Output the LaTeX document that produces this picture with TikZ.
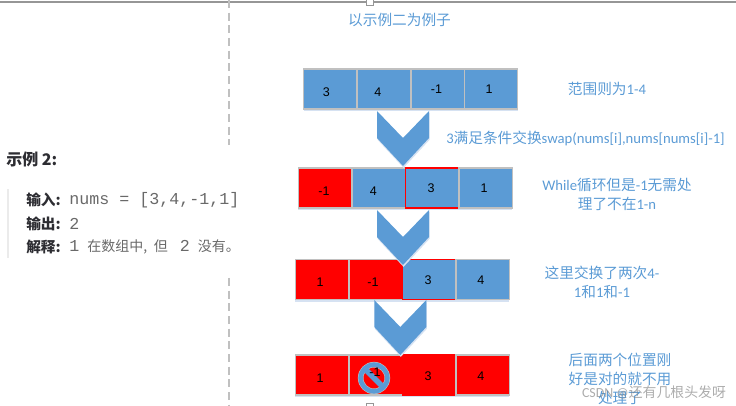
\documentclass[tikz,border=0pt]{standalone}
\usepackage{fontspec}
\setmainfont{Carlito}
\setmonofont{Liberation Mono}
\newfontfamily\cjk{Noto Sans CJK SC}
\newfontfamily\numfont{Liberation Sans}
\usetikzlibrary{positioning}
\definecolor{CellBlue}{RGB}{91,155,213}
\definecolor{CellEdge}{RGB}{192,192,192}
\definecolor{ShadowBlue}{RGB}{214,226,242}
\definecolor{LabelBlue}{RGB}{91,155,213}
\definecolor{HeadDark}{RGB}{45,45,50}
\definecolor{ValueGray}{RGB}{105,105,105}
\definecolor{FrameGray}{RGB}{150,150,150}
\newcommand{\cellnum}[3]{\raisebox{#2}{\makebox[0pt]{\hspace*{#1}#3}}}
\tikzset{
  softshadow/.style={preaction={draw=none,fill=ShadowBlue,transform canvas={xshift=0.4pt,yshift=-1.4pt}}},
  cellbase/.style={line width=1pt,minimum width=40pt,minimum height=30pt,
    inner sep=0pt,outer sep=0pt,text height=6.8pt,text depth=0pt,font=\numfont\fontsize{9.4}{11}\selectfont},
  bluecell/.style={cellbase,draw=CellEdge,preaction={fill=CellBlue}},
  redcell/.style={cellbase,draw=CellEdge,preaction={fill=red}},
  markedcell/.style={cellbase,draw=red,preaction={fill=CellBlue}},
  fullredcell/.style={cellbase,draw=red,preaction={fill=red}},
  chevron/.pic={
    \fill[CellBlue,softshadow] (-26,0) -- (0,27) -- (26,0) -- (26,27) -- (0,55) -- (-26,27) -- cycle;
  },
  note/.style={text=LabelBlue,align=center,inner sep=0pt,font=\fontsize{11}{14.25}\selectfont},
  head/.style={text=HeadDark,anchor=west,inner sep=0pt,font=\cjk\bfseries\fontsize{11}{13}\selectfont},
  value/.style={text=ValueGray,anchor=west,inner sep=0pt,font=\fontsize{10.5}{13}\selectfont},
  monoval/.style={value,font=\ttfamily\fontsize{12.5}{13}\selectfont}
}
\begin{document}
\begin{tikzpicture}[x=0.75pt,y=-0.75pt,node distance=0.2pt]
  \useasboundingbox (0,0) rectangle (736,406);
  \draw[FrameGray,line width=0.9pt] (0,2) -- (736,2);
  \draw[draw=CellEdge,line width=0.9pt,dash pattern=on 6pt off 3.5pt] (229,0) -- (229,145);
  \draw[draw=CellEdge,line width=0.9pt,dash pattern=on 6pt off 3.5pt] (229,278) -- (229,406);
  \node[draw=FrameGray,fill=white,minimum size=5pt,inner sep=0pt] (tophandle) at (369.5,1.5) {};
  \node[draw=FrameGray,fill=white,minimum size=5pt,inner sep=0pt] (bottomhandle) at (369.5,407) {};

  \node[note] (title) at (399.5,20) {\cjk 以示例二为例子};

  \node[bluecell] (aa) at (330.3,89) {\cellnum{-6pt}{-2.25pt}{3}};
  \node[bluecell,right=of aa] (ab) {\cellnum{-9pt}{-2.25pt}{4}};
  \node[bluecell,right=of ab] (ac) {\cellnum{-1.5pt}{0pt}{-1}};
  \node[bluecell,right=of ac] (ad) {\cellnum{-3pt}{0pt}{1}};

  \node[redcell] (ba) at (325,188) {\cellnum{-1.5pt}{-2.5pt}{-1}};
  \node[bluecell,right=of ba] (bb) {\cellnum{-8pt}{-2.25pt}{4}};
  \node[markedcell,right=of bb] (bc) {\cellnum{-1.5pt}{0pt}{3}};
  \node[bluecell,right=of bc] (bd) {\cellnum{-2.5pt}{0pt}{1}};

  \node[redcell] (ca) at (322,279.5) {\cellnum{-3pt}{-2pt}{1}};
  \node[redcell,right=of ca] (cb) {\cellnum{-4pt}{-1.5pt}{-1}};
  \node[markedcell,right=of cb] (cc) {\cellnum{-1.5pt}{0pt}{3}};
  \node[bluecell,right=of cc] (cd) {\cellnum{-3pt}{0pt}{4}};

  \node[redcell] (da) at (322,375) {\cellnum{-3pt}{-2.25pt}{1}};
  \node[redcell,right=of da] (db) {};
  \node[fullredcell,right=of db] (dc) {\cellnum{-1.5pt}{-0.5pt}{3}};
  \node[redcell,right=of dc] (dd) {\cellnum{-3pt}{-0.5pt}{4}};

  \foreach \first/\last in {aa/ad,ba/bd,ca/cd,da/dd}
    \fill[ShadowBlue] ([yshift=-0.5pt]\first.south west) rectangle ([yshift=-1.8pt]\last.south east);

  \pic at (403,111) {chevron};
  \pic at (403,210) {chevron};
  \pic at (400.3,300) {chevron};

  \node[circle,draw=CellEdge,double=CellBlue,double distance=3.4pt,line width=0.4pt,minimum size=20pt,inner sep=0pt] (forbid) at (374,378) {};
  \draw[CellBlue,line width=4pt] (forbid.135) -- (forbid.-45);
  \node[font=\numfont\fontsize{9.4}{11}\selectfont,inner sep=0pt] (dbnum) at (375,372) {-1};

  \node[note] (range) at (607,89) {{\cjk 范围则为}1-4};
  \node[note] (swap) at (585.5,138) {3{\cjk 满足条件交换}swap(nums[i],nums[nums[i]-1]};
  \node[note] (while) at (617,194) {While{\cjk 循环但是}-1{\cjk 无需处}\\{\cjk 理了不在}1-n};
  \node[note] (twice) at (602,282) {{\cjk 这里交换了两次}4-\\1{\cjk 和}1{\cjk 和}-1};
  \node[note] (rest) at (620,378.5) {\cjk 后面两个位置刚\\\cjk 好是对的就不用\\\cjk 处理了};
  \node[text=gray,opacity=0.65,inner sep=0pt,font=\fontsize{10.4}{13}\selectfont] (wm) at (654,392) {CSDN @{\cjk 还有几根头发呀}};

  \node[head,font=\cjk\bfseries\fontsize{12}{13}\selectfont] (example) at (6,159) {示例 2:};
  \fill[black!8] (6.5,189) rectangle (8.5,258);
  \node[head] (input) at (26,200) {输入:};
  \node[head] (output) at (26,224) {输出:};
  \node[head] (explain) at (26,247) {解释:};
  \node[monoval,right=6pt of input] (inputval) {nums = [3,4,-1,1]};
  \node[monoval,right=6pt of output] (outputval) {2};
  \node[value,right=6pt of explain] (explainval) {{\ttfamily\fontsize{12.5}{13}\selectfont 1}\hspace{6pt}{\cjk 在数组中,}\hspace{5pt}{\cjk 但}\hspace{9pt}{\ttfamily\fontsize{12.5}{13}\selectfont 2}\hspace{6pt}{\cjk 没有。}};
\end{tikzpicture}
\end{document}
